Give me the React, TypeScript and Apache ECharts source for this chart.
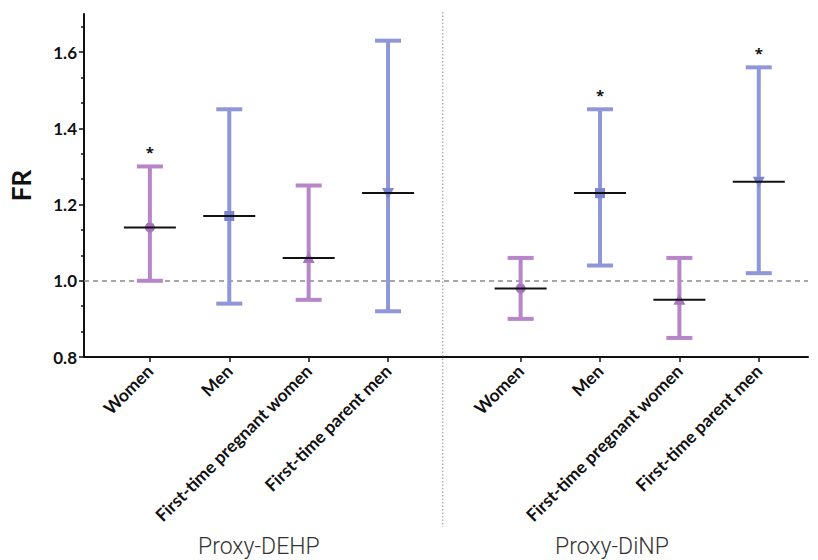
import React, { useEffect, useRef } from "react";
import * as echarts from "echarts";

const categories = [
  "Women",
  "Men",
  "First-time pregnant women",
  "First-time parent men",
  "Women",
  "Men",
  "First-time pregnant women",
  "First-time parent men",
];
const xPositions = [1, 2, 3, 4, 5.67, 6.67, 7.67, 8.67];
const frValues = [1.14, 1.17, 1.06, 1.23, 0.98, 1.23, 0.95, 1.26];
const lowerCI = [1.0, 0.94, 0.95, 0.92, 0.9, 1.04, 0.85, 1.02];
const upperCI = [1.3, 1.45, 1.25, 1.63, 1.06, 1.45, 1.06, 1.56];
const significant = [1, 0, 0, 0, 0, 1, 0, 1];
const yTicks = [0.8, 1.0, 1.2, 1.4, 1.6];
const groupNames = ["Proxy-DEHP", "Proxy-DiNP"];
const separatorX = [4.69];
const referenceFR = 1.0;

const PURPLE = "#b686c9";
const PURPLE_DARK = "#a874c0";
const BLUE = "#8f97d9";
const BLUE_DARK = "#7c85d2";
const LABEL_FONT = "Lato, 'Open Sans', sans-serif";

export default function App() {
  const ref = useRef<HTMLDivElement>(null);

  useEffect(() => {
    if (!ref.current) return;
    const chart = echarts.init(ref.current, null, { renderer: "svg" });

    const minorTicks: number[] = [];
    yTicks.forEach((t) => {
      for (let k = 1; k < 3; k++) {
        const v = t + (0.2 * k) / 3;
        if (v < 1.7) minorTicks.push(Math.round(v * 10000) / 10000);
      }
    });

    const data = xPositions.map((x, i) => [x, frValues[i], lowerCI[i], upperCI[i], significant[i]]);

    const renderItem = (params: any, api: any) => {
      const i = params.dataIndex;
      const x = api.value(0);
      const pM = api.coord([x, api.value(1)]);
      const pLo = api.coord([x, api.value(2)]);
      const pHi = api.coord([x, api.value(3)]);
      const color = i % 2 === 0 ? PURPLE : BLUE;
      const mColor = i % 2 === 0 ? PURPLE_DARK : BLUE_DARK;
      const capW = 13;
      const meanW = 26;
      const children: any[] = [
        {
          type: "line",
          shape: { x1: pLo[0], y1: pLo[1], x2: pHi[0], y2: pHi[1] },
          style: { stroke: color, lineWidth: 4 },
        },
        {
          type: "line",
          shape: { x1: pHi[0] - capW, y1: pHi[1], x2: pHi[0] + capW, y2: pHi[1] },
          style: { stroke: color, lineWidth: 4 },
        },
        {
          type: "line",
          shape: { x1: pLo[0] - capW, y1: pLo[1], x2: pLo[0] + capW, y2: pLo[1] },
          style: { stroke: color, lineWidth: 4 },
        },
      ];
      const shape = i % 4;
      if (shape === 0) {
        children.push({ type: "circle", shape: { cx: pM[0], cy: pM[1], r: 5 }, style: { fill: mColor } });
      } else if (shape === 1) {
        children.push({ type: "rect", shape: { x: pM[0] - 5, y: pM[1] - 5, width: 10, height: 10 }, style: { fill: mColor } });
      } else if (shape === 2) {
        children.push({
          type: "polygon",
          shape: { points: [[pM[0], pM[1] - 6], [pM[0] - 6, pM[1] + 5], [pM[0] + 6, pM[1] + 5]] },
          style: { fill: mColor },
        });
      } else {
        children.push({
          type: "polygon",
          shape: { points: [[pM[0], pM[1] + 6], [pM[0] - 6, pM[1] - 5], [pM[0] + 6, pM[1] - 5]] },
          style: { fill: mColor },
        });
      }
      children.push({
        type: "line",
        shape: { x1: pM[0] - meanW, y1: pM[1], x2: pM[0] + meanW, y2: pM[1] },
        style: { stroke: "#111", lineWidth: 2 },
      });
      if (api.value(4)) {
        children.push({
          type: "text",
          style: {
            text: "*",
            x: pHi[0],
            y: pHi[1] - 14,
            fill: "#111",
            font: "bold 15px 'Open Sans', sans-serif",
            align: "center",
            verticalAlign: "middle",
          },
        });
      }
      return { type: "group", children };
    };

    const separatorRender = (params: any, api: any) => {
      const p = api.coord([api.value(0), 1.0]);
      return {
        type: "line",
        shape: { x1: p[0], y1: 12, x2: p[0], y2: 527 },
        style: { stroke: "#8a8a8a", lineWidth: 1, lineDash: [1.5, 2] },
      };
    };

    const labelFor = (v: number) => {
      const idx = xPositions.findIndex((p) => Math.abs(p - v) < 0.01);
      return idx >= 0 ? categories[idx] : "";
    };

    chart.setOption({
      animation: false,
      backgroundColor: "#ffffff",
      grid: { left: 83, right: 10, top: 14, bottom: 203, containLabel: false },
      xAxis: {
        type: "value",
        min: 0.17,
        max: 9.29,
        splitLine: { show: false },
        axisLine: { show: true, onZero: false, lineStyle: { color: "#111", width: 2 } },
        axisTick: { show: true, customValues: xPositions, length: 5, lineStyle: { color: "#111", width: 1.5 } },
        axisLabel: {
          show: true,
          customValues: xPositions,
          formatter: (v: number) => labelFor(v),
          rotate: 45,
          margin: 11,
          color: "#111",
          fontWeight: "bold",
          fontSize: 17.5,
          fontFamily: LABEL_FONT,
        },
      },
      yAxis: [
        {
          type: "value",
          min: 0.8,
          max: 1.7,
          interval: 0.2,
          name: "FR",
          nameLocation: "middle",
          nameGap: 50,
          nameRotate: 90,
          nameTextStyle: { fontSize: 26, fontWeight: "bold", color: "#111", fontFamily: LABEL_FONT },
          splitLine: { show: false },
          axisLine: { show: true, lineStyle: { color: "#111", width: 2 } },
          axisTick: { show: true, customValues: yTicks, length: 5, lineStyle: { color: "#111", width: 1.5 } },
          axisLabel: {
            customValues: yTicks,
            formatter: (v: number) => v.toFixed(1),
            margin: 7,
            color: "#111",
            fontWeight: "bold",
            fontSize: 17,
            fontFamily: LABEL_FONT,
          },
        },
        {
          type: "value",
          min: 0.8,
          max: 1.7,
          position: "left",
          offset: 0,
          splitLine: { show: false },
          axisLine: { show: false },
          axisTick: { show: true, customValues: minorTicks, length: 3, lineStyle: { color: "#111", width: 1.5 } },
          axisLabel: { show: false },
        },
      ],
      series: [
        {
          type: "custom",
          renderItem: separatorRender,
          data: separatorX.map((x) => [x]),
          silent: true,
          clip: false,
          z: 1,
        },
        {
          type: "custom",
          renderItem,
          data,
          clip: false,
          z: 3,
          markLine: {
            silent: true,
            symbol: "none",
            label: { show: false },
            lineStyle: { color: "#8a8a8a", width: 1.5, type: [5, 4] },
            data: [{ yAxis: referenceFR }],
            z: 2,
          },
        },
      ],
      graphic: [
        {
          type: "text",
          left: 268 - 70,
          top: 535,
          style: {
            text: groupNames[0],
            fill: "#333",
            font: "300 23px Roboto, sans-serif",
            width: 140,
            align: "center",
          },
        },
        {
          type: "text",
          left: 625 - 70,
          top: 535,
          style: {
            text: groupNames[1],
            fill: "#333",
            font: "300 23px Roboto, sans-serif",
            width: 140,
            align: "center",
          },
        },
      ],
    });

    return () => chart.dispose();
  }, []);

  return <div ref={ref} style={{ position: "fixed", left: 0, top: 0, width: 818, height: 560 }} />;
}
